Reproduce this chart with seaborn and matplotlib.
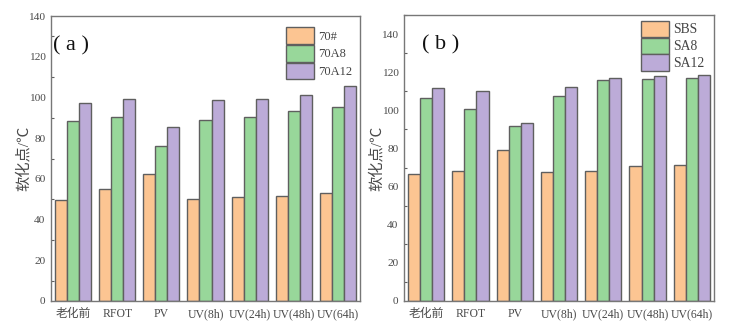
import matplotlib
matplotlib.use("Agg")
import matplotlib.pyplot as plt
from matplotlib.ticker import MultipleLocator
import pandas as pd
import seaborn as sns

categories = ["老化前", "RFOT", "PV", "UV(8h)", "UV(24h)", "UV(48h)", "UV(64h)"]

# panel (a): base asphalt 70# and its modified versions
series_a = ["70#", "70A8", "70A12"]
vals_a_70 = [49.8, 55.2, 62.6, 50.1, 51.3, 51.6, 53.1]
vals_a_70a8 = [88.5, 90.6, 76.3, 89.0, 90.5, 93.4, 95.4]
vals_a_70a12 = [97.4, 99.2, 85.3, 98.5, 99.2, 101.2, 105.4]

# panel (b): SBS asphalt and its modified versions
series_b = ["SBS", "SA8", "SA12"]
vals_b_sbs = [66.8, 68.4, 79.2, 67.5, 68.4, 71.0, 71.5]
vals_b_sa8 = [106.4, 100.9, 92.0, 107.6, 115.8, 116.5, 117.2]
vals_b_sa12 = [111.8, 110.4, 93.6, 112.3, 117.2, 117.9, 118.4]

ylabel = "软化点/℃"
panel_tags = ["( a )", "( b )"]

colors = ["#FCC592", "#98D79A", "#BCABD8"]
edge = "#5f5f5f"
text_color = "#4a4a4a"

sns.set_theme(style="white")
plt.rcParams["font.family"] = ["Liberation Serif", "Noto Sans CJK SC"]


def long_table(names, columns):
    rows = []
    for name, vals in zip(names, columns):
        for cat, v in zip(categories, vals):
            rows.append({"cat": cat, "series": name, "value": v})
    return pd.DataFrame(rows)


df_a = long_table(series_a, [vals_a_70, vals_a_70a8, vals_a_70a12])
df_b = long_table(series_b, [vals_b_sbs, vals_b_sa8, vals_b_sa12])

fig = plt.figure(figsize=(7.46, 3.29), dpi=100)
ax_a = fig.add_axes([51 / 746, 28 / 329, 309 / 746, 285 / 329])
ax_b = fig.add_axes([404 / 746, 28 / 329, 310 / 746, 286 / 329])

specs = [
    # axes, data, series, ymax, legend font, handle len/height, spacing, anchor, tag x, ylabel pad
    (ax_a, df_a, series_a, 140, 9.0, 2.25, 1.65, 0.1, (0.975, 0.96), 0.008, panel_tags[0], -2),
    (ax_b, df_b, series_b, 150, 9.8, 2.1, 1.45, 0.05, (0.97, 0.98), 0.058, panel_tags[1], -2),
]

for ax, df, names, ymax, leg_fs, hl, hh, ls, anchor, tag_x, tag, pad in specs:
    sns.barplot(data=df, x="cat", y="value", hue="series", hue_order=names,
                order=categories, palette=colors, edgecolor=edge, linewidth=1.0,
                width=0.82, saturation=1.0, ax=ax, errorbar=None)
    ax.set_xlim(-0.5, len(categories) - 0.5)
    ax.set_ylim(0, ymax)
    ax.yaxis.set_major_locator(MultipleLocator(20))
    ax.yaxis.set_minor_locator(MultipleLocator(10))
    ax.set_xlabel("")
    ax.set_ylabel(ylabel, fontsize=11, color=text_color, labelpad=pad)
    ax.tick_params(axis="y", which="major", direction="out", length=2.5,
                   width=0.8, colors=edge, labelsize=8.2, labelcolor=text_color, pad=1.5)
    ax.tick_params(axis="y", which="minor", direction="in", length=2,
                   width=0.8, colors=edge, left=True)
    ax.tick_params(axis="x", direction="in", length=3, width=0.8,
                   colors=edge, labelsize=8.5, labelcolor=text_color, pad=5)
    for sp in ax.spines.values():
        sp.set_visible(True)
        sp.set_color("#777777")
        sp.set_linewidth(1.0)
    leg = ax.legend(loc="upper right", bbox_to_anchor=anchor, frameon=False,
                    fontsize=leg_fs, handlelength=hl, handleheight=hh,
                    labelspacing=ls, handletextpad=0.3, borderaxespad=0.0,
                    borderpad=0.0)
    for t in leg.get_texts():
        t.set_color("#444444")
    ax.text(tag_x, 0.895, tag, transform=ax.transAxes, fontsize=16,
            va="center", ha="left", color="#111111")

fig.savefig("out.png", dpi=100)
